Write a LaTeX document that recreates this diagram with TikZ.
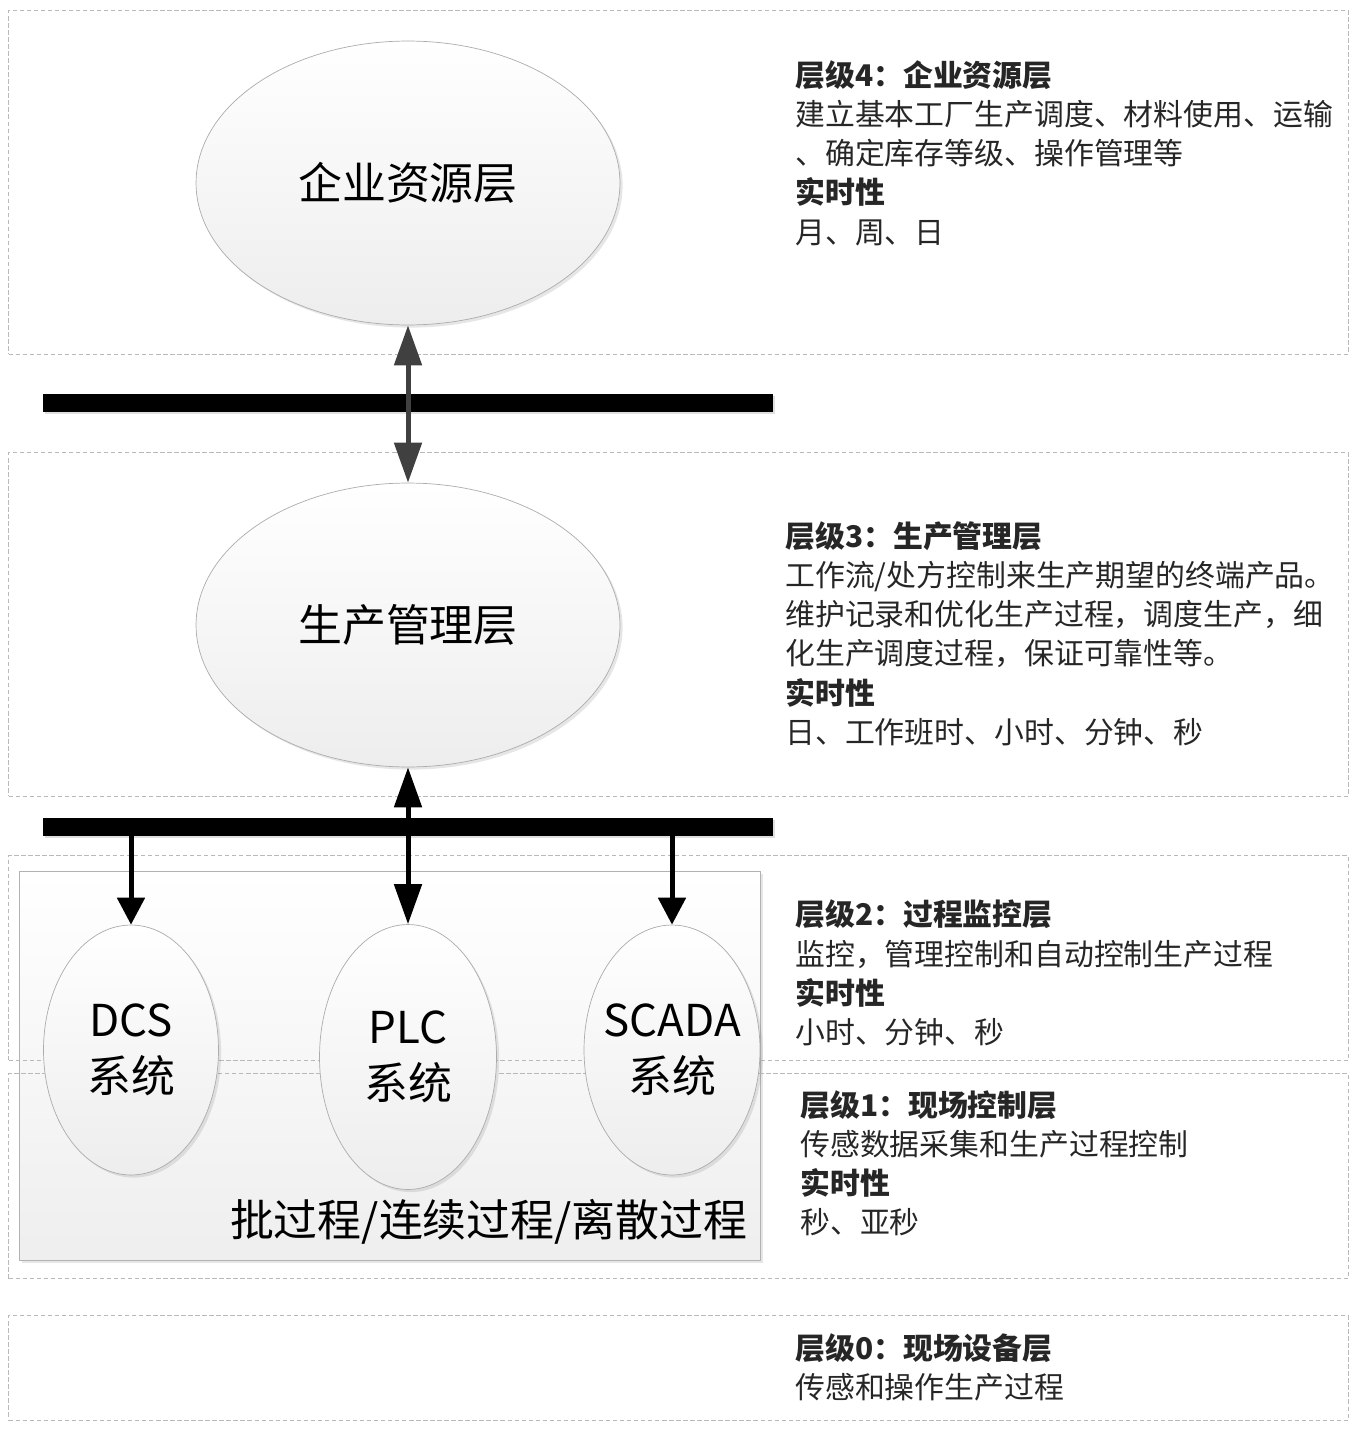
\documentclass[tikz,border=0pt]{standalone}
\usepackage{fontspec}
\setmainfont{Noto Sans CJK SC}
\usetikzlibrary{arrows.meta, positioning, shapes.geometric, shadows}

\begin{document}
\begin{tikzpicture}[
    x=0.02cm, y=-0.02cm,
    >={Triangle[length=0.8cm,width=0.54cm]},
    short tip/.style={-{Triangle[length=0.54cm,width=0.54cm]}},
    layerbox/.style={draw=gray!55, dash pattern=on 2.5pt off 1.5pt, line width=0.6pt,
      inner sep=0, anchor=north west, minimum width=26.8cm},
    tier/.style={ellipse, draw=gray!65, top color=white, bottom color=gray!14, inner sep=0,
      drop shadow={shadow xshift=1.5pt, shadow yshift=-1.5pt, opacity=0.2},
      font=\fontsize{25}{32}\selectfont, align=center},
    procbox/.style={draw=gray!60, top color=white, bottom color=gray!13, inner sep=0,
      anchor=north west, drop shadow={shadow xshift=1.5pt, shadow yshift=-1.5pt, opacity=0.2}},
    bus/.style={fill=black, inner sep=0, minimum width=14.6cm, minimum height=0.36cm,
      drop shadow={shadow xshift=1pt, shadow yshift=-1pt, opacity=0.25}},
    link/.style={line width=0.1cm},
    desc/.style={anchor=base west, align=left, inner sep=0,
      font=\fontsize{17}{22.2}\selectfont, text=black!85},
  ]
  \useasboundingbox (0,0) rectangle (1356,1436);

  % process box behind the field systems
  \node[procbox, minimum width=14.82cm, minimum height=7.78cm] (proc) at (19,871) {};
  \node[font=\fontsize{25}{30}\selectfont, anchor=east, inner sep=0] (proclbl) at (748,1222)
    {批过程/连续过程/离散过程};

  % dashed layer frames
  \foreach \n/\y/\h in {4/10/6.88, 3/452/6.88, 2/855/4.1, 1/1073/4.1, 0/1315/2.1}
    \node[layerbox, minimum height=\h cm] (lay\n) at (8,\y) {};

  % ellipses
  \node[tier, minimum width=8.48cm, minimum height=5.68cm] (erp) at (408,183) {企业资源层};
  \node[tier, minimum width=8.48cm, minimum height=5.68cm] (mes) at (408,625) {生产管理层};
  \node[tier, minimum width=3.5cm, minimum height=5cm]     (dcs) at (131,1050) {DCS\\系统};
  \node[tier, minimum width=3.54cm, minimum height=5.3cm]  (plc) at (408,1057) {PLC\\系统};
  \node[tier, inner xsep=-0.25cm, minimum width=3.52cm, minimum height=5cm] (scada) at (672,1050) {SCADA\\系统};

  % buses
  \node[bus] (bus1) at (408,403) {};
  \node[bus] (bus2) at (408,827) {};

  \draw[link, <->, draw=black!75, fill=black!75] (erp) -- (mes);
  \draw[link, <->] (mes) -- (plc);
  \draw[link, short tip] (bus2.south -| dcs) -- (dcs.north);
  \draw[link, short tip] (bus2.south -| scada) -- (scada.north);

  % layer descriptions (anchored on the last line)
  \node[desc] (txt4) at (795,243) {\textbf{层级4：企业资源层}\\建立基本工厂生产调度、材料使用、运输\\、确定库存等级、操作管理等\\\textbf{实时性}\\月、周、日};
  \node[desc] (txt3) at (785,743) {\textbf{层级3：生产管理层}\\工作流/处方控制来生产期望的终端产品。\\维护记录和优化生产过程，调度生产，细\\化生产调度过程，保证可靠性等。\\\textbf{实时性}\\日、工作班时、小时、分钟、秒};
  \node[desc] (txt2) at (795,1043) {\textbf{层级2：过程监控层}\\监控，管理控制和自动控制生产过程\\\textbf{实时性}\\小时、分钟、秒};
  \node[desc] (txt1) at (800,1233) {\textbf{层级1：现场控制层}\\传感数据采集和生产过程控制\\\textbf{实时性}\\秒、亚秒};
  \node[desc] (txt0) at (795,1398) {\textbf{层级0：现场设备层}\\传感和操作生产过程};
\end{tikzpicture}
\end{document}
